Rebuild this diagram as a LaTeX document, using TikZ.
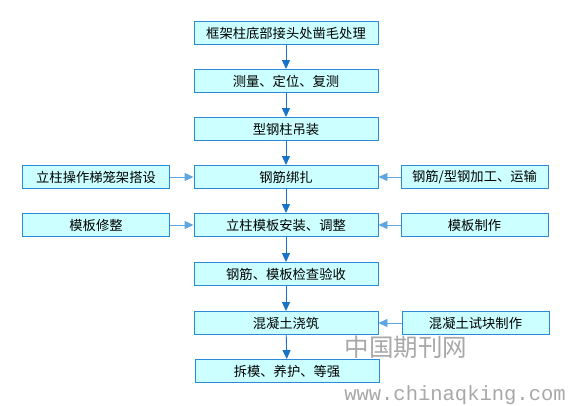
\documentclass[tikz,border=0pt]{standalone}
\usepackage{fontspec}
\newfontfamily\cjk{Noto Sans CJK SC}
\setmonofont{Liberation Mono}
\usetikzlibrary{arrows.meta}

\definecolor{boxfill}{HTML}{CCFFFF}
\definecolor{boxline}{HTML}{2A8AD8}
\definecolor{arrline}{HTML}{1874C8}
\definecolor{sideline}{HTML}{5FA6E0}
\definecolor{wmgray}{HTML}{A8A8A8}

\begin{document}
\begin{tikzpicture}[x=1pt, y=-1pt,
    every node/.style={font=\cjk\fontsize{13.3}{15}\selectfont},
    mb/.style={rectangle, draw=boxline, fill=boxfill, line width=0.9pt,
               minimum width=184pt, minimum height=23pt, inner sep=0pt},
    sb/.style={mb, minimum width=147pt},
    e/.style={draw=arrline, line width=0.9pt,
              -{Triangle[length=9pt, width=8pt]}},
    se/.style={e, draw=sideline},
    wm/.style={text=wmgray, inner sep=0pt},
  ]
  \useasboundingbox (0,0) rectangle (572,406);
  % main column
  \node[mb] (n1) at (286, 33) {框架柱底部接头处凿毛处理};
  \node[mb] (n2) at (286, 81) {测量、定位、复测};
  \node[mb] (n3) at (286, 129) {型钢柱吊装};
  \node[mb] (n4) at (286, 177) {钢筋绑扎};
  \node[mb] (n5) at (286, 225) {立柱模板安装、调整};
  \node[mb] (n6) at (286, 274) {钢筋、模板检查验收};
  \node[mb] (n7) at (286, 323) {混凝土浇筑};
  \node[mb] (n8) at (287, 371) {拆模、养护、等强};
  % side boxes
  \node[sb] (l4) at (96, 177) {立柱操作梯笼架搭设};
  \node[sb] (r4) at (474.5, 177) {钢筋/型钢加工、运输};
  \node[sb] (l5) at (96, 225) {模板修整};
  \node[sb] (r5) at (474.5, 225) {模板制作};
  \node[sb] (r7) at (475.5, 323) {混凝土试块制作};
  % watermark
  \node[wm, font=\cjk\fontsize{24.5}{26}\selectfont] (wm1) at (406, 347) {中国期刊网};
  \node[wm, font=\ttfamily\fontsize{20.5}{22}\selectfont] (wm2) at (455, 395) {www.chinaqking.com};
  % connectors
  \draw[e] (n1) -- (n2);
  \draw[e] (n2) -- (n3);
  \draw[e] (n3) -- (n4);
  \draw[e] (n4) -- (n5);
  \draw[e] (n5) -- (n6);
  \draw[e] (n6) -- (n7);
  \draw[e] (n7) -- (n8);
  \draw[se] (l4) -- (n4);
  \draw[se] (r4) -- (n4);
  \draw[se] (l5) -- (n5);
  \draw[se] (r5) -- (n5);
  \draw[se] (r7) -- (n7);
\end{tikzpicture}
\end{document}
